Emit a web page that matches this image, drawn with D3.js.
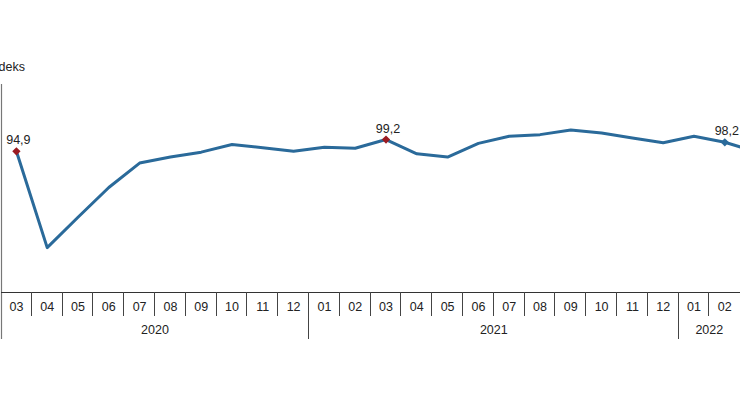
<!DOCTYPE html>
<html>
<head>
<meta charset="utf-8">
<script src="https://cdn.jsdelivr.net/npm/d3@7"></script>
<style>
  body { margin: 0; background: #fff; }
  svg { display: block; font-family: "Liberation Sans", Arial, sans-serif; }
</style>
</head>
<body>
<svg id="chart"></svg>
<script>
var width = 740
var height = 400

// months shown on the axis (2020-03 .. 2022-03, last one falls off the right edge)
var months = ["03","04","05","06","07","08","09","10","11","12",
              "01","02","03","04","05","06","07","08","09","10","11","12",
              "01","02","03"]
var years = ["2020","2020","2020","2020","2020","2020","2020","2020","2020","2020",
             "2021","2021","2021","2021","2021","2021","2021","2021","2021","2021","2021","2021",
             "2022","2022","2022"]
var values = [94.9, 59.7, 70.8, 81.7, 90.6, 92.8, 94.6, 97.4, 96.2, 94.9,
              96.4, 96.0, 99.2, 94.0, 92.8, 97.8, 100.4, 101.0, 102.7, 101.6, 99.8, 98.0,
              100.4, 98.2, 94.8]
var labelled = [0, 12, 23]   // points that carry a value label
var redMarks = [0, 12]       // these markers are dark red, the others blue

var yDomain = [43.5, 119.5]

var lineColor = "#2a6a9a"
var redColor = "#9b1b22"

var keys = months.map(function(m, i){ return years[i] + "-" + m })

var svg = d3.select("#chart")
  .attr("width", width)
  .attr("height", height)

var x = d3.scaleBand()
  .domain(keys)
  .range([1, 1 + 30.8 * keys.length])

var y = d3.scaleLinear()
  .domain(yDomain)
  .range([292, 84])

// left axis line
svg.append("line")
  .attr("x1", 1.5).attr("x2", 1.5)
  .attr("y1", 84).attr("y2", 339)
  .attr("stroke", "#777").attr("stroke-width", 1.2)

// bottom axis line
svg.append("line")
  .attr("x1", 1).attr("x2", width)
  .attr("y1", 292.5).attr("y2", 292.5)
  .attr("stroke", "#333").attr("stroke-width", 1)

// month separators and labels (only the months that fit in the frame get a label)
var axisG = svg.append("g")
keys.forEach(function(k, i){
  var left = x(k)
  var newYear = i > 0 && years[i] !== years[i-1]
  if (i > 0 && left < width) {
    axisG.append("line")
      .attr("x1", Math.round(left) - 0.5).attr("x2", Math.round(left) - 0.5)
      .attr("y1", 292).attr("y2", newYear ? 339 : 316)
      .attr("stroke", "#444").attr("stroke-width", 1)
  }
  if (left + x.bandwidth() <= width + 1) {
    axisG.append("text")
      .attr("x", left + x.bandwidth() / 2)
      .attr("y", 311)
      .attr("text-anchor", "middle")
      .attr("font-size", 12.5)
      .attr("fill", "#222")
      .text(months[i])
  }
})

// year labels, centred on the visible part of each year
var yearNames = Array.from(new Set(years))
yearNames.forEach(function(yr){
  var idx = keys.filter(function(k, i){ return years[i] === yr })
  var start = x(idx[0])
  var end = Math.min(x(idx[idx.length - 1]) + x.bandwidth(), width)
  svg.append("text")
    .attr("x", (start + end) / 2)
    .attr("y", 334)
    .attr("text-anchor", "middle")
    .attr("font-size", 12.5)
    .attr("fill", "#222")
    .text(yr)
})

// axis title, its left part cut off by the frame as in the source
svg.append("text")
  .attr("x", 25)
  .attr("y", 71)
  .attr("text-anchor", "end")
  .attr("font-size", 12.5)
  .attr("fill", "#222")
  .text("İndeks")

var line = d3.line()
  .x(function(d, i){ return x(keys[i]) + x.bandwidth() / 2 })
  .y(function(d){ return y(d) })

svg.append("path")
  .datum(values)
  .attr("d", line)
  .attr("fill", "none")
  .attr("stroke", lineColor)
  .attr("stroke-width", 3)
  .attr("stroke-linejoin", "round")

// diamond markers + value labels
labelled.forEach(function(i){
  var cx = x(keys[i]) + x.bandwidth() / 2
  var cy = y(values[i])
  svg.append("path")
    .attr("d", d3.symbol().type(d3.symbolDiamond2).size(44)())
    .attr("transform", "translate(" + cx + "," + cy + ")")
    .attr("fill", redMarks.includes(i) ? redColor : lineColor)
  svg.append("text")
    .attr("x", cx + 2)
    .attr("y", cy - 7)
    .attr("text-anchor", "middle")
    .attr("font-size", 12.5)
    .attr("fill", "#222")
    .text(String(values[i]).replace(".", ","))
})
</script>
</body>
</html>
